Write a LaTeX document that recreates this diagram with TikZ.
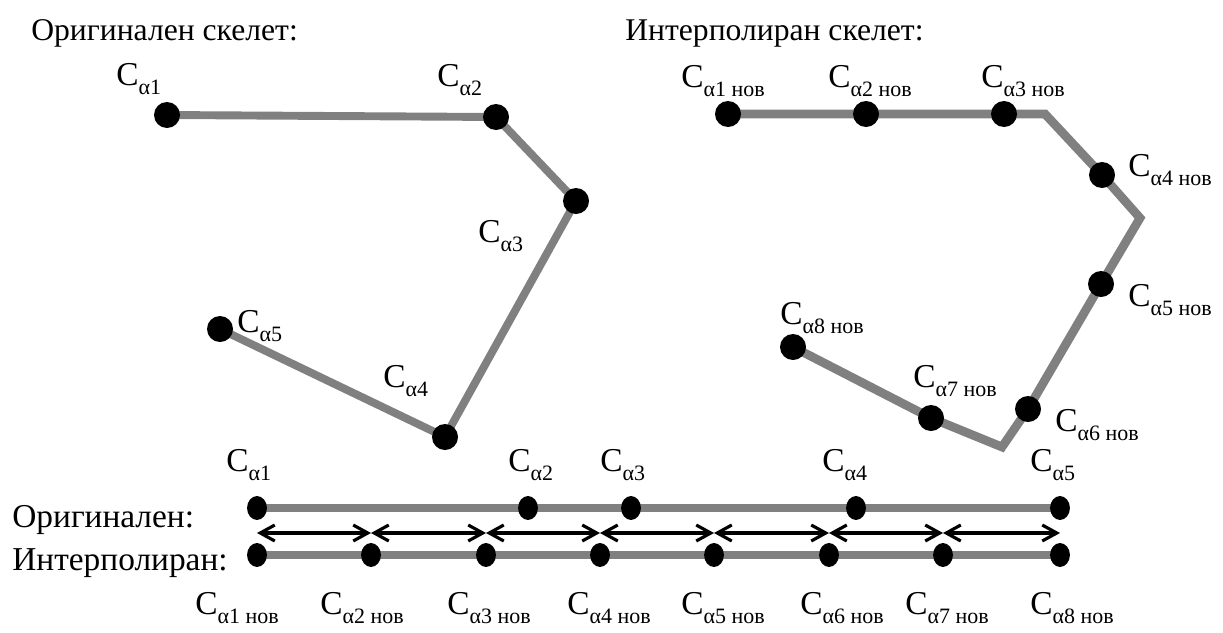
\documentclass[tikz,border=0pt]{standalone}
\usepackage{fontspec}
\setmainfont{Liberation Serif}
\usetikzlibrary{arrows.meta,positioning,backgrounds,shapes.geometric}
\definecolor{boneGray}{RGB}{128,128,128}
\newcommand{\lowsub}[1]{\raisebox{-5.5pt}{\fontsize{12.5}{13}\selectfont #1}}
\newcommand{\ca}[1]{C\lowsub{α#1}}
\newcommand{\cn}[1]{C\lowsub{α#1 нов}}

\begin{document}
\begin{tikzpicture}[x=0.02cm,y=-0.02cm,
  dot/.style={circle,fill=black,inner sep=0pt,minimum size=14.8pt},
  bdot/.style={ellipse,fill=black,inner sep=0pt,minimum width=11.3pt,minimum height=13.6pt},
  bone/.style={draw=boneGray,line width=4.5pt},
  lbl/.style={anchor=base west,inner sep=0pt,font=\fontsize{19}{22}\selectfont},
  hd/.style={anchor=base west,inner sep=0pt,font=\fontsize{18}{22}\selectfont},
  rowlbl/.style={hd,font=\fontsize{19}{22}\selectfont},
  dbl/.style={{Straight Barb[length=2.9mm,width=3.2mm]}-{Straight Barb[length=2.9mm,width=3.2mm]},line width=1.8pt}]
  \useasboundingbox (0,0) rectangle (1223,632);

  % headings
  \node[hd] (t1) at (31,40) {Оригинален скелет:};
  \node[hd] (t2) at (625,40) {Интерполиран скелет:};
  \node[rowlbl] (r1) at (12,527) {Оригинален:};
  \node[rowlbl] (r2) at (12,570) {Интерполиран:};

  % original skeleton
  \node[dot] (a1) at (167,115) {};
  \node[dot] (a2) at (496,117) {};
  \node[dot] (a3) at (576,201) {};
  \node[dot] (a4) at (445,437) {};
  \node[dot] (a5) at (220,329) {};
  \node[lbl] (la1) at (116,85) {\ca{1}};
  \node[lbl] (la2) at (437,86) {\ca{2}};
  \node[lbl] (la3) at (478,242) {\ca{3}};
  \node[lbl] (la4) at (383,387) {\ca{4}};
  \node[lbl] (la5) at (237,332) {\ca{5}};

  % interpolated skeleton
  \node[dot] (n1) at (728,114) {};
  \node[dot] (n2) at (866,114) {};
  \node[dot] (n3) at (1004,114) {};
  \coordinate (k1) at (1045,114);
  \node[dot] (n4) at (1102,175) {};
  \coordinate (k2) at (1140,218);
  \node[dot] (n5) at (1101,284) {};
  \node[dot] (n6) at (1028,409) {};
  \coordinate (k3) at (1002,447);
  \node[dot] (n7) at (931,418) {};
  \node[dot] (n8) at (793,347) {};
  \node[lbl] (ln1) at (681,87) {\cn{1}};
  \node[lbl] (ln2) at (828,87) {\cn{2}};
  \node[lbl] (ln3) at (981,87) {\cn{3}};
  \node[lbl] (ln4) at (1128,176) {\cn{4}};
  \node[lbl] (ln5) at (1128,306) {\cn{5}};
  \node[lbl] (ln6) at (1055,431) {\cn{6}};
  \node[lbl] (ln7) at (913,387) {\cn{7}};
  \node[lbl] (ln8) at (780,324) {\cn{8}};

  % bottom rows
  \foreach \x [count=\i] in {257,528,631,856,1060}
    \node[bdot] (o\i) at (\x,508) {};
  \foreach \x [count=\i] in {257,371,486,600,714,829,943,1060} {
    \node[bdot] (i\i) at (\x,555) {};
    \coordinate (m\i) at (\x,533);
  }
  \foreach \x/\n in {226/1,508/2,600/3,822/4,1030/5}
    \node[lbl] (lo\n) at (\x,471) {\ca{\n}};
  \foreach \x/\n in {195/1,320/2,447/3,567/4,681/5,800/6,905/7,1030/8}
    \node[lbl] (li\n) at (\x,614) {\cn{\n}};
  \foreach \i [evaluate=\i as \j using int(\i+1)] in {1,...,7}
    \draw[dbl] (m\i) -- (m\j);

  \begin{scope}[on background layer]
    \draw[bone] (a1.center) -- (a2.center) -- (a3.center) -- (a4.center) -- (a5.center);
    \draw[bone,line width=5pt] (n1.center) -- (n2.center) -- (n3.center) -- (k1) -- (n4.center)
      -- (k2) -- (n5.center) -- (n6.center) -- (k3) -- (n7.center) -- (n8.center);
    \draw[bone] (o1.center) -- (o5.center);
    \draw[bone] (i1.center) -- (i8.center);
  \end{scope}
\end{tikzpicture}
\end{document}
